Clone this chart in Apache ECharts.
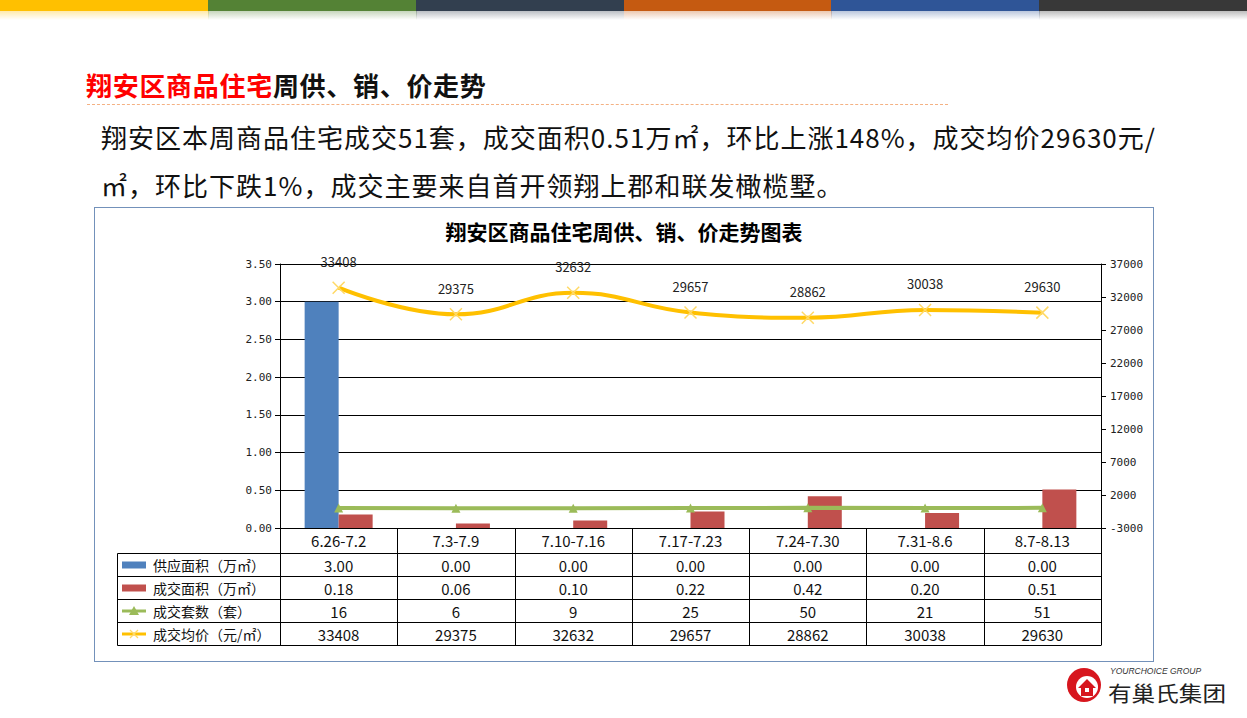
<!DOCTYPE html>
<html>
<head>
<meta charset="utf-8">
<script src="https://cdn.jsdelivr.net/npm/echarts@6/dist/echarts.min.js"></script>
<style>
html,body{margin:0;padding:0;}
body{width:1247px;height:718px;position:relative;background:#fff;overflow:hidden;font-family:"Noto Sans CJK SC","Microsoft YaHei",sans-serif;color:#111;}
.topbar{position:absolute;top:0;height:11px;}
.topfade{position:absolute;top:11px;height:9px;}
#title{position:absolute;left:86px;top:68px;font-size:26px;font-weight:bold;letter-spacing:0.7px;white-space:nowrap;line-height:34px;}
#title .red{color:#FF0000;}
#dash{position:absolute;left:87px;top:104px;width:861px;height:0;border-top:1px dashed #F4B183;}
.para{position:absolute;left:101px;font-size:26px;white-space:nowrap;line-height:34px;color:#111;letter-spacing:1px;}
#box{position:absolute;left:94px;top:207px;width:1058px;height:453px;border:1px solid #7391BA;}
#chart{width:1058px;height:453px;}
#logo{position:absolute;left:1060px;top:660px;width:187px;height:58px;}
</style>
</head>
<body>
<div id="bars"></div>
<div id="title"><span class="red">翔安区商品住宅</span>周供、销、价走势</div>
<div id="dash"></div>
<div class="para" id="p1" style="top:120px;">翔安区本周商品住宅成交51套，成交面积0.51万㎡，环比上涨148%，成交均价29630元/</div>
<div class="para" id="p2" style="top:168px;">㎡，环比下跌1%，成交主要来自首开领翔上郡和联发橄榄墅。</div>
<div id="box"><div id="chart"></div></div>
<div id="logo">
<svg width="187" height="58" viewBox="0 0 187 58">
  <circle cx="24" cy="25" r="17" fill="#D7161E"/>
  <circle cx="27" cy="27" r="11" fill="#fff"/>
  <path d="M18,28 L27,19 L36,28 L33,28 L33,36 L21,36 L21,28 Z" fill="#D7161E"/>
  <rect x="25" y="28" width="4" height="4" fill="#fff"/>
  <text x="50" y="14" font-family="Liberation Sans, Arial, sans-serif" font-style="italic" font-size="8.5" fill="#333">YOURCHOICE GROUP</text>
  <text x="48" y="41" font-family="Noto Sans CJK SC, sans-serif" font-size="21" fill="#222" textLength="118" lengthAdjust="spacingAndGlyphs">有巢氏集团</text>
</svg>
</div>
<script>
// ---------- data ----------
const categories = ['6.26-7.2','7.3-7.9','7.10-7.16','7.17-7.23','7.24-7.30','7.31-8.6','8.7-8.13'];
const supplyArea = [3.00, 0.00, 0.00, 0.00, 0.00, 0.00, 0.00];
const dealArea   = [0.18, 0.06, 0.10, 0.22, 0.42, 0.20, 0.51];
const dealUnits  = [16, 6, 9, 25, 50, 21, 51];
const avgPrice   = [33408, 29375, 32632, 29657, 28862, 30038, 29630];
const seriesNames = ['供应面积（万㎡）', '成交面积（万㎡）', '成交套数（套）', '成交均价（元/㎡）'];
const leftAxisTicks  = {min: 0, max: 3.5, interval: 0.5};
const rightAxisTicks = {min: -3000, max: 37000, interval: 5000};
const topBarColors = ['#FFC000', '#548235', '#323F4F', '#C55A11', '#2F5597', '#383838'];

// ---------- top colour bars ----------
(function(){
  const host = document.getElementById('bars');
  const w = 1247 / topBarColors.length;
  topBarColors.forEach((c, i) => {
    const b = document.createElement('div');
    b.className = 'topbar';
    b.style.left = (i * w) + 'px'; b.style.width = (w + 1) + 'px'; b.style.background = c;
    host.appendChild(b);
    const f = document.createElement('div');
    f.className = 'topfade';
    f.style.left = (i * w) + 'px'; f.style.width = (w + 1) + 'px';
    f.style.background = 'linear-gradient(to bottom,' + c + '55, ' + c + '00)';
    host.appendChild(f);
  });
})();

const COLORS = {supply:'#4F81BD', deal:'#C0504D', units:'#9BBB59', price:'#FFC000'};
const xSymbol = 'path://M0,0L10,10M10,0L0,10';
const monoFont = '"DejaVu Sans Mono", "Liberation Mono", monospace';
const cjkFont = '"Noto Sans CJK SC", "Microsoft YaHei", sans-serif';

const chart = echarts.init(document.getElementById('chart'), null, {renderer: 'svg'});
const option = {
  animation: false,
  title: {
    text: '翔安区商品住宅周供、销、价走势图表',
    left: 'center', top: 12, padding: 0,
    textStyle: {fontSize: 21, fontWeight: 'bold', color: '#000', fontFamily: cjkFont}
  },
  grid: {left: 185, right: 52, top: 56, bottom: 133, containLabel: false},
  xAxis: {
    type: 'category', data: categories, boundaryGap: true,
    axisLine: {show: true, lineStyle: {color: '#000', width: 1}},
    axisTick: {show: false},
    axisLabel: {show: true, interval: 0, margin: 5, fontSize: 15, color: '#111', fontFamily: cjkFont}
  },
  yAxis: [
    {
      type: 'value', min: leftAxisTicks.min, max: leftAxisTicks.max, interval: leftAxisTicks.interval,
      axisLine: {show: true, lineStyle: {color: '#000'}},
      axisTick: {show: true, length: 5, lineStyle: {color: '#000'}},
      splitLine: {show: true, lineStyle: {color: '#000', width: 1}},
      axisLabel: {formatter: v => v.toFixed(2), fontFamily: monoFont, fontSize: 11, color: '#222', margin: 8}
    },
    {
      type: 'value', position: 'right', min: rightAxisTicks.min, max: rightAxisTicks.max, interval: rightAxisTicks.interval,
      axisLine: {show: true, lineStyle: {color: '#000'}},
      axisTick: {show: true, length: 5, lineStyle: {color: '#000'}},
      splitLine: {show: false},
      axisLabel: {formatter: v => String(v), fontFamily: monoFont, fontSize: 11, color: '#222', margin: 9}
    }
  ],
  series: [
    {name: seriesNames[0], type: 'bar', data: supplyArea, yAxisIndex: 0, barWidth: 34, barGap: '0%',
     itemStyle: {color: COLORS.supply}, z: 2},
    {name: seriesNames[1], type: 'bar', data: dealArea, yAxisIndex: 0, barWidth: 34, barGap: '0%',
     itemStyle: {color: COLORS.deal}, z: 2},
    {name: seriesNames[2], type: 'line', data: dealUnits, yAxisIndex: 1, smooth: false,
     symbol: 'triangle', symbolSize: 9, showAllSymbol: true,
     lineStyle: {color: COLORS.units, width: 4}, itemStyle: {color: COLORS.units}, z: 4},
    {name: seriesNames[3], type: 'line', data: avgPrice, yAxisIndex: 1, smooth: 0.45,
     symbol: xSymbol, symbolSize: 12, showAllSymbol: true,
     lineStyle: {color: COLORS.price, width: 4},
     itemStyle: {color: COLORS.price, borderColor: '#FFD966', borderWidth: 1.5},
     label: {show: true, position: 'top', distance: 13, fontSize: 13, color: '#222', fontFamily: cjkFont},
     z: 5}
  ]
};
chart.setOption(option);

// ---------- data table under the axis, positioned from the category scale ----------
function buildTable(){
  const c0 = chart.convertToPixel({xAxisIndex: 0}, 0);
  const c1 = chart.convertToPixel({xAxisIndex: 0}, 1);
  const bw = c1 - c0;
  const left = c0 - bw / 2;
  const n = categories.length;
  const right = left + bw * n;
  const y0 = Math.round(chart.convertToPixel({yAxisIndex: 0}, 0)) + 0.5;
  const labelLeft = 22.5;
  const keyX = 27, keyW = 24;
  const labelTextX = 58;
  const rowH = [25, 23, 23, 23, 23];
  const rowY = [y0];
  rowH.forEach(h => rowY.push(rowY[rowY.length - 1] + h));
  const els = [];
  const line = (x1, y1, x2, y2) => els.push({type: 'line', silent: true,
    shape: {x1, y1, x2, y2}, style: {stroke: '#000', lineWidth: 1}, z: 10});
  const txt = (t, x, y, align, size) => els.push({type: 'text', silent: true, z: 10,
    style: {text: t, x, y, fill: '#111', font: (size || 15) + 'px ' + cjkFont,
            align: align || 'center', verticalAlign: 'middle', textAlign: align || 'center', textVerticalAlign: 'middle'}});
  for (let r = 1; r < rowY.length; r++) line(labelLeft, rowY[r], right, rowY[r]);
  for (let i = 0; i <= n; i++) {
    const x = Math.round(left + bw * i) + 0.5;
    line(x, rowY[0], x, rowY[rowY.length - 1]);
  }
  line(labelLeft, rowY[1], labelLeft, rowY[rowY.length - 1]);
  const rows = [
    supplyArea.map(v => v.toFixed(2)),
    dealArea.map(v => v.toFixed(2)),
    dealUnits.map(v => String(v)),
    avgPrice.map(v => String(v))
  ];
  rows.forEach((vals, r) => {
    const cy = (rowY[r + 1] + rowY[r + 2]) / 2;
    vals.forEach((v, i) => txt(v, c0 + bw * i, cy, 'center', 15));
    txt(seriesNames[r], labelTextX, cy, 'left', 14);
    if (r < 2) {
      els.push({type: 'rect', silent: true, z: 10, shape: {x: keyX, y: cy - 3.5, width: keyW, height: 7},
        style: {fill: r === 0 ? COLORS.supply : COLORS.deal}});
    } else if (r === 2) {
      els.push({type: 'line', silent: true, z: 10, shape: {x1: keyX, y1: cy, x2: keyX + keyW, y2: cy},
        style: {stroke: COLORS.units, lineWidth: 3}});
      const m = keyX + keyW / 2;
      els.push({type: 'polygon', silent: true, z: 11,
        shape: {points: [[m, cy - 5], [m - 5, cy + 4], [m + 5, cy + 4]]},
        style: {fill: COLORS.units}});
    } else {
      els.push({type: 'line', silent: true, z: 10, shape: {x1: keyX, y1: cy, x2: keyX + keyW, y2: cy},
        style: {stroke: COLORS.price, lineWidth: 3}});
      const m = keyX + keyW / 2;
      els.push({type: 'line', silent: true, z: 11, shape: {x1: m - 4, y1: cy - 4, x2: m + 4, y2: cy + 4},
        style: {stroke: '#FFD966', lineWidth: 1.3}});
      els.push({type: 'line', silent: true, z: 11, shape: {x1: m + 4, y1: cy - 4, x2: m - 4, y2: cy + 4},
        style: {stroke: '#FFD966', lineWidth: 1.3}});
    }
  });
  chart.setOption({graphic: {elements: els}});
}
buildTable();
</script>
</body>
</html>
